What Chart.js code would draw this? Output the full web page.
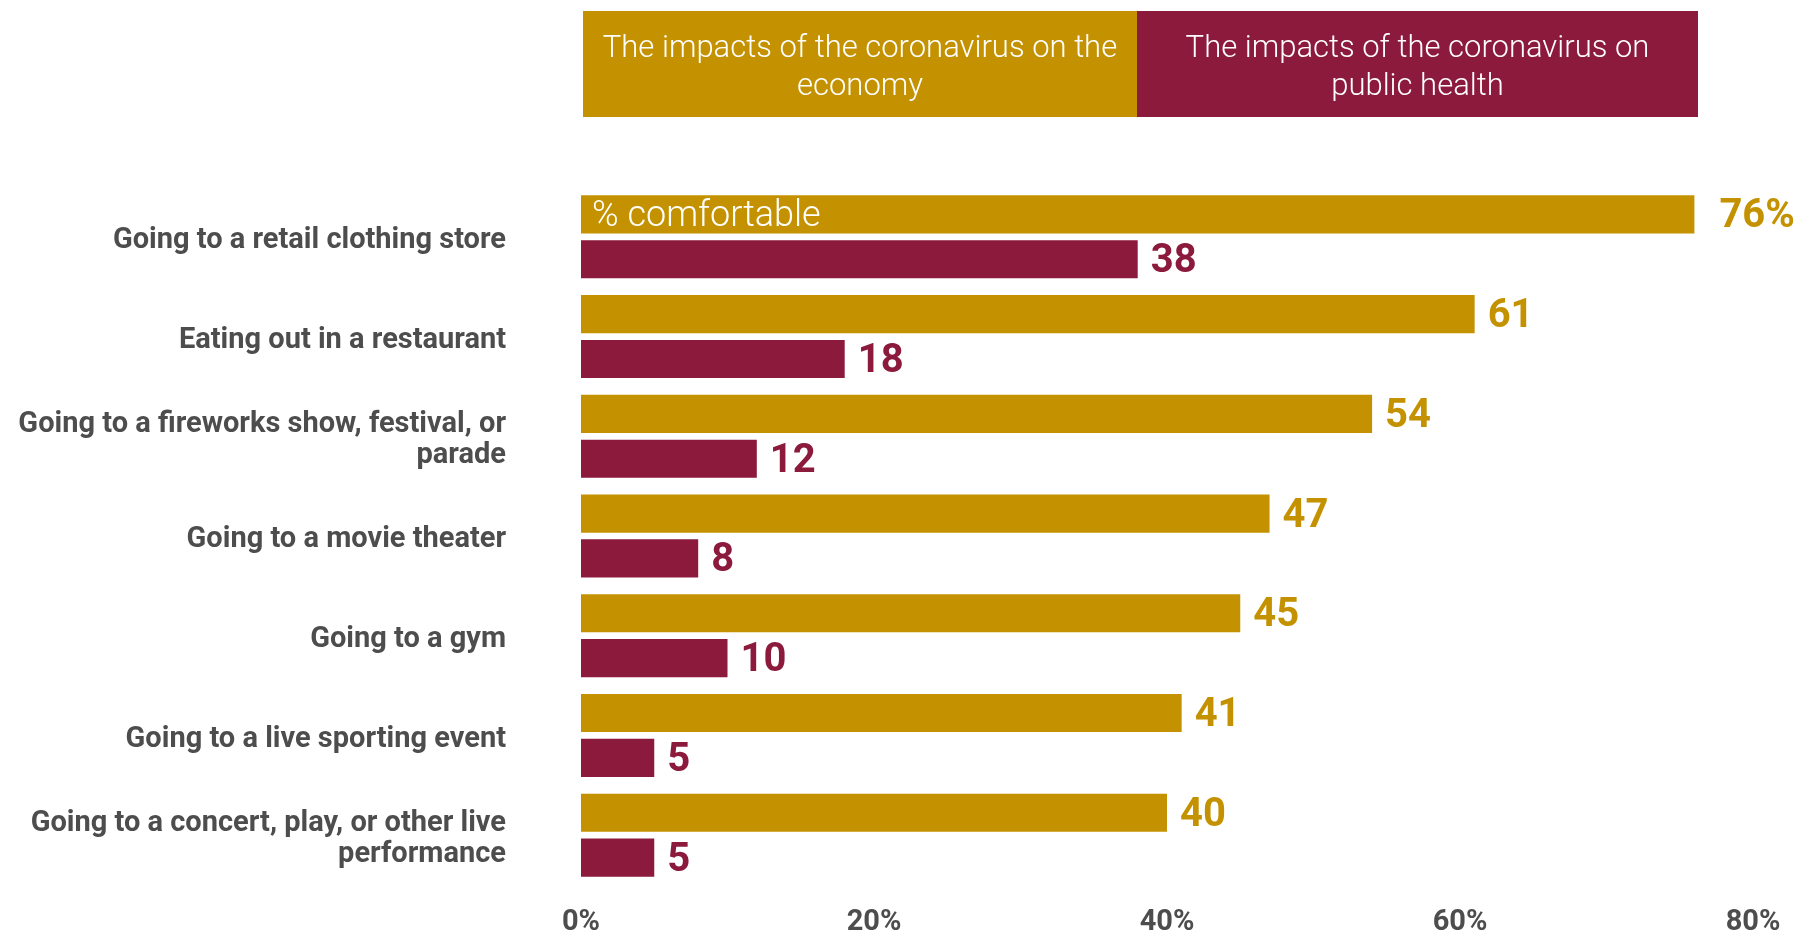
<!DOCTYPE html>
<html>
<head>
<meta charset="utf-8">
<script src="https://cdn.jsdelivr.net/npm/chart.js@4/dist/chart.umd.min.js"></script>
<style>
  html, body { margin: 0; padding: 0; background: #ffffff; }
  #wrap { width: 1800px; height: 932px; position: relative; }
</style>
</head>
<body>
<div id="wrap"><canvas id="chart" width="1800" height="932"></canvas></div>
<script>
// Activities asked about (multi-line labels as arrays)
const categories = [
  'Going to a retail clothing store',
  'Eating out in a restaurant',
  ['Going to a fireworks show, festival, or', 'parade'],
  'Going to a movie theater',
  'Going to a gym',
  'Going to a live sporting event',
  ['Going to a concert, play, or other live', 'performance']
];

// % comfortable, by which impact worries people more
const economyValues = [76, 61, 54, 47, 45, 41, 40];
const healthValues = [38, 18, 12, 8, 10, 5, 5];

const seriesNames = [
  'The impacts of the coronavirus on the economy',
  'The impacts of the coronavirus on public health'
];
const headerLines = [
  ['The impacts of the coronavirus on the', 'economy'],
  ['The impacts of the coronavirus on', 'public health']
];
const xTickValues = [0, 20, 40, 60, 80];
const barNote = '% comfortable';

const GOLD = '#C49200';
const MAROON = '#8B1A3D';
const GREY = '#4D4D4D';
const FONT = 'Roboto, "Liberation Sans", sans-serif';

// Coloured header boxes acting as the legend
const headerPlugin = {
  id: 'headerBoxes',
  afterDraw(chart) {
    const ctx = chart.ctx;
    const left = 583, split = 1137, right = 1698, top = 11, bottom = 117;
    const boxes = [[left, split, GOLD], [split, right, MAROON]];
    ctx.save();
    boxes.forEach(([x0, x1, color], i) => {
      ctx.fillStyle = color;
      ctx.fillRect(x0, top, x1 - x0, bottom - top);
      ctx.fillStyle = '#ffffff';
      ctx.font = '300 31px ' + FONT;
      ctx.textAlign = 'center';
      ctx.textBaseline = 'middle';
      headerLines[i].forEach((line, j) => {
        ctx.fillText(line, (x0 + x1) / 2, 49 + j * 38);
      });
    });
    ctx.restore();
  }
};

// Value labels at the end of each bar, plus the note inside the first bar
const valueLabelPlugin = {
  id: 'valueLabels',
  afterDatasetsDraw(chart) {
    const ctx = chart.ctx;
    ctx.save();
    chart.data.datasets.forEach((ds, di) => {
      const meta = chart.getDatasetMeta(di);
      meta.data.forEach((bar, i) => {
        const v = ds.data[i];
        const withUnit = di === 0 && i === 0;
        const text = withUnit ? v + '%' : String(v);
        ctx.fillStyle = ds.backgroundColor;
        ctx.font = 'bold 40px ' + FONT;
        ctx.textAlign = 'left';
        ctx.textBaseline = 'middle';
        ctx.fillText(text, bar.x + (withUnit ? 25 : 13), bar.y + 3);
      });
    });
    const first = chart.getDatasetMeta(0).data[0];
    ctx.fillStyle = '#ffffff';
    ctx.font = '300 36px ' + FONT;
    ctx.textAlign = 'left';
    ctx.textBaseline = 'middle';
    ctx.fillText(barNote, first.base + 11, first.y + 3);
    ctx.restore();
  }
};

new Chart(document.getElementById('chart'), {
  type: 'bar',
  data: {
    labels: categories,
    datasets: [
      {
        label: seriesNames[0],
        data: economyValues,
        backgroundColor: GOLD,
        categoryPercentage: 0.9,
        barPercentage: 0.85
      },
      {
        label: seriesNames[1],
        data: healthValues,
        backgroundColor: MAROON,
        categoryPercentage: 0.9,
        barPercentage: 0.85
      }
    ]
  },
  options: {
    indexAxis: 'y',
    responsive: false,
    animation: false,
    layout: { padding: { top: 187, right: 47, left: 0, bottom: 0 } },
    plugins: {
      legend: { display: false },
      tooltip: { enabled: false },
      title: { display: false }
    },
    scales: {
      x: {
        min: 0,
        max: 80,
        afterBuildTicks(scale) {
          scale.ticks = xTickValues.map(v => ({ value: v }));
        },
        grid: { display: false },
        border: { display: false },
        ticks: {
          callback: v => v + '%',
          color: GREY,
          font: { family: FONT, weight: 'bold', size: 29 },
          padding: 12,
          maxRotation: 0
        },
        afterFit(scale) { scale.height = 47; }
      },
      y: {
        grid: { display: false },
        border: { display: false },
        ticks: {
          color: GREY,
          font: { family: FONT, weight: 'bold', size: 29, lineHeight: 1.07 },
          padding: 67,
          labelOffset: 4,
          crossAlign: 'near'
        },
        afterFit(scale) {
          scale.width = 581;
          scale.paddingTop = 0;
          scale.paddingBottom = 0;
        }
      }
    }
  },
  plugins: [headerPlugin, valueLabelPlugin]
});
</script>
</body>
</html>
